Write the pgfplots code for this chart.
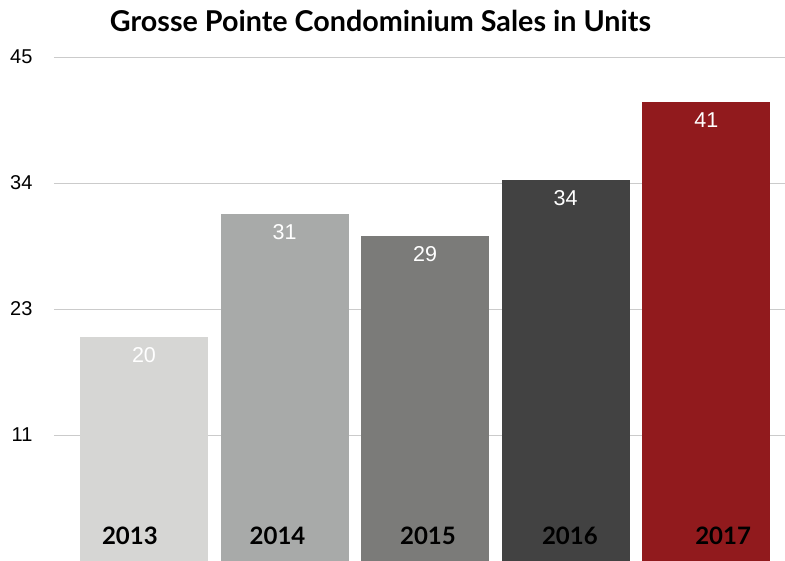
\documentclass[border=0pt]{standalone}
\usepackage{pgfplots}
\pgfplotsset{compat=1.18}
\usepackage{fontspec}
\setmainfont{Liberation Sans}
\newfontfamily\titlefont{Lato}

\definecolor{c13}{HTML}{D6D6D4}
\definecolor{c14}{HTML}{A8AAA9}
\definecolor{c15}{HTML}{7B7B79}
\definecolor{c16}{HTML}{424242}
\definecolor{c17}{HTML}{911A1D}
\definecolor{gridgray}{HTML}{CBCBCB}

\begin{document}
\begin{tikzpicture}
\begin{axis}[
    scale only axis,
    width=731pt,
    height=504pt,
    xmin=-0.64, xmax=4.56,
    ymin=0, ymax=45,
    axis line style={draw=none},
    ytick={11.25,22.5,33.75,45},
    yticklabels={11,23,34,45},
    xtick=\empty,
    major tick length=0pt,
    ymajorgrids,
    grid style={gridgray, line width=0.8pt},
    /pgf/number format/assume math mode=true,
    yticklabel style={font=\fontsize{20}{24}\selectfont, xshift=-18pt},
    ybar, bar width=128pt,
    nodes near coords,
    every node near coord/.append style={
        white, anchor=north, yshift=-7pt,
        font=\fontsize{21.5}{24}\selectfont},
    clip=false,
]
\addplot[fill=c13, draw=none, bar shift=0pt] coordinates {(0,20)};
\addplot[fill=c14, draw=none, bar shift=0pt] coordinates {(1,31)};
\addplot[fill=c15, draw=none, bar shift=0pt] coordinates {(2,29)};
\addplot[fill=c16, draw=none, bar shift=0pt] coordinates {(3,34)};
\addplot[fill=c17, draw=none, bar shift=0pt] coordinates {(4,41)};

\begin{scope}[every node/.style={font=\titlefont\bfseries\fontsize{24}{28}\selectfont, anchor=base, inner sep=0pt}]
\node at (axis cs:-0.10,1.45) {2013};
\node at (axis cs:0.95,1.45) {2014};
\node at (axis cs:2.02,1.45) {2015};
\node at (axis cs:3.03,1.45) {2016};
\node at (axis cs:4.12,1.45) {2017};
\end{scope}

\node[font=\titlefont\bfseries\fontsize{28.7}{34}\selectfont, anchor=base, inner sep=0pt]
    at (rel axis cs:0.4466,1.05) {Grosse Pointe Condominium Sales in Units};
\end{axis}
\pgfresetboundingbox
\path[use as bounding box] (-54pt,0pt) rectangle (731pt,561pt);
\end{tikzpicture}
\end{document}
